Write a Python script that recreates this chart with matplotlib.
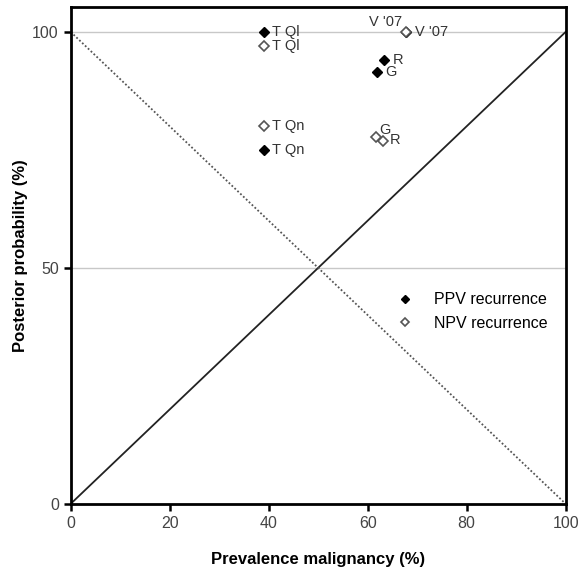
import matplotlib.pyplot as plt

plt.rcParams['font.family'] = ['Liberation Sans', 'DejaVu Sans']

# Data
ppv_labels = ["T Ql", "T Qn", "R", "G", "V '07"]
ppv_x = [39, 39, 63.3, 61.9, 67.8]
ppv_y = [100, 75, 94, 91.6, 100]

npv_labels = ["T Ql", "T Qn", "G", "R", "V '07"]
npv_x = [39, 39, 61.7, 63.1, 67.8]
npv_y = [97, 80, 77.8, 76.8, 100]

# label offsets (points)
ppv_off = [(6, 0), (6, 0), (6, 0), (6, 0), (-3, 7)]
ppv_ha = ["left", "left", "left", "left", "right"]
npv_off = [(6, 0), (6, 0), (2, 5), (5, 1), (6, 0)]
npv_ha = ["left", "left", "left", "left", "left"]

fig = plt.figure(figsize=(5.79, 5.70), dpi=100)
ax = fig.add_axes([0.122, 0.116, 0.855, 0.872])

ax.axhline(50, color="#c8c8c8", linewidth=1, zorder=1)
ax.axhline(100, color="#c8c8c8", linewidth=1, zorder=1)
ax.plot([0, 100], [0, 100], color="#222222", linewidth=1.3, zorder=2)
ax.plot([0, 100], [100, 0], color="#555555", linewidth=1.3, linestyle=(0, (1, 1.2)), zorder=2)

ax.plot(ppv_x, ppv_y, linestyle="none", marker="D", markersize=5,
        color="black", label="PPV recurrence", zorder=3)
ax.plot(npv_x, npv_y, linestyle="none", marker="D", markersize=5,
        markerfacecolor="white", markeredgecolor="#555555", markeredgewidth=1.2,
        label="NPV recurrence", zorder=4)

for lab, x, y, off, ha in zip(ppv_labels, ppv_x, ppv_y, ppv_off, ppv_ha):
    ax.annotate(lab, (x, y), xytext=off, textcoords="offset points",
                ha=ha, va="center", fontsize=10.5, color="#333333")
for lab, x, y, off, ha in zip(npv_labels, npv_x, npv_y, npv_off, npv_ha):
    ax.annotate(lab, (x, y), xytext=off, textcoords="offset points",
                ha=ha, va="center", fontsize=10.5, color="#333333")

ax.set_xlim(0, 100)
ax.set_ylim(0, 105.3)
ax.set_xticks([0, 20, 40, 60, 80, 100])
ax.set_yticks([0, 50, 100])
ax.tick_params(direction="out", length=5, width=1.8, labelsize=11.5, labelcolor="#444444")
for s in ax.spines.values():
    s.set_linewidth(2)

ax.set_xlabel("Prevalence malignancy (%)", fontsize=12, fontweight="bold", labelpad=15)
ax.set_ylabel("Posterior probability (%)", fontsize=12, fontweight="bold", labelpad=3)

leg = ax.legend(loc="upper left", bbox_to_anchor=(0.631, 0.455), frameon=False,
                fontsize=11.5, handlelength=1.0, handletextpad=1.3, labelspacing=0.55,
                markerscale=0.8)

fig.savefig("out.png", dpi=100)
